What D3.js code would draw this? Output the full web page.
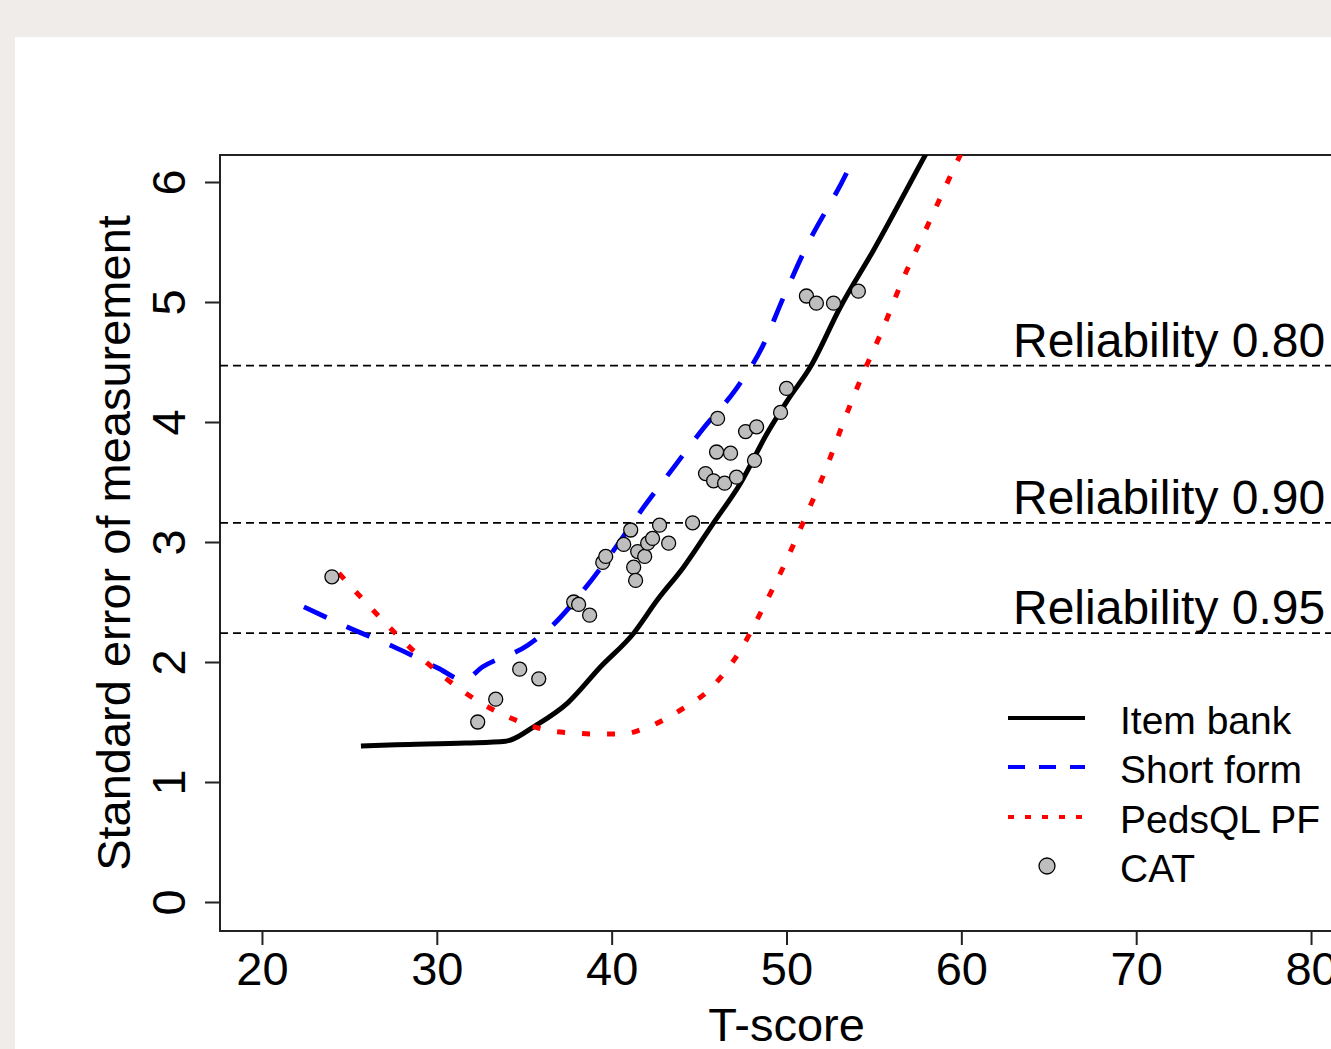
<!DOCTYPE html>
<html>
<head>
<meta charset="utf-8">
<script src="https://cdn.jsdelivr.net/npm/d3@7"></script>
<style>
  html, body { margin: 0; padding: 0; background: #f0ece9; }
  svg { display: block; }
  text { font-family: "Liberation Sans", Arial, sans-serif; fill: #000; }
</style>
</head>
<body>
<svg id="chart" width="1331" height="1049"></svg>
<script>
// ---------- data ----------
const xTicks = [20, 30, 40, 50, 60, 70, 80];
const yTicks = [0, 1, 2, 3, 4, 5, 6];

const itemBankT  = [25.66, 27.66, 31.66, 33.94, 34.23, 35.54, 37.49, 39.37, 41.26, 42.63, 44.11, 45.83, 47.37, 48.91, 50.06, 51.37, 53.09, 54.97, 57.94, 58.6];
const itemBankSE = [1.30, 1.31, 1.325, 1.34, 1.35, 1.46, 1.66, 1.96, 2.24, 2.52, 2.79, 3.16, 3.49, 3.91, 4.18, 4.46, 4.96, 5.43, 6.225, 6.40];

const shortT  = [22.4, 24.91, 27.49, 30.06, 31.54, 32.63, 35.2, 36.51, 38.4, 40.11, 41.83, 43.54, 45.26, 47.09, 48.63, 49.77, 50.97, 53.77, 54.3];
const shortSE = [2.46, 2.29, 2.13, 1.95, 1.85, 1.96, 2.14, 2.29, 2.6, 2.93, 3.29, 3.62, 3.95, 4.27, 4.63, 5.02, 5.41, 6.18, 6.36];

const pedsT  = [24.4, 25.66, 27.83, 30.11, 32.51, 34.97, 36.34, 37.66, 39.2, 40.63, 41.94, 43.94, 45.66, 47.37, 48.69, 49.94, 51.09, 52.23, 53.26, 54.34, 55.49, 56.63, 57.83, 59.09, 59.94, 60.4];
const pedsSE = [2.74, 2.54, 2.21, 1.91, 1.66, 1.49, 1.43, 1.41, 1.40, 1.40, 1.45, 1.60, 1.78, 2.10, 2.46, 2.83, 3.21, 3.60, 4.00, 4.39, 4.77, 5.18, 5.56, 5.96, 6.225, 6.36];

const catT  = [24.0, 32.34, 33.37, 34.74, 35.83, 37.83, 38.11, 38.74, 39.49, 39.66, 40.69, 41.09, 41.26, 41.37, 41.49, 41.89, 42.06, 42.34, 42.74, 43.26, 44.63, 45.37, 45.83, 46.46, 47.14, 46.0, 46.8, 46.06, 47.66, 48.29, 48.17, 49.66, 50.0, 51.14, 51.71, 52.69, 54.11];
const catSE = [2.71, 1.50, 1.69, 1.94, 1.86, 2.50, 2.48, 2.39, 2.83, 2.88, 2.98, 3.10, 2.79, 2.68, 2.92, 2.88, 2.99, 3.03, 3.14, 2.99, 3.16, 3.57, 3.51, 3.49, 3.54, 3.75, 3.74, 4.03, 3.92, 3.96, 3.68, 4.08, 4.28, 5.05, 4.99, 4.99, 5.09];

const reliabilityLabels = ["Reliability 0.80", "Reliability 0.90", "Reliability 0.95"];
const reliabilitySE = [4.47, 3.16, 2.24];

const legendLabels = ["Item bank", "Short form", "PedsQL PF", "CAT"];

// ---------- layout ----------
const svg = d3.select("#chart");
const W = 1331, H = 1049;
const box = { left: 220, top: 155, right: 1353, bottom: 931 };

svg.append("rect").attr("x", 0).attr("y", 0).attr("width", W).attr("height", H).attr("fill", "#f0ece9");
svg.append("rect").attr("x", 15).attr("y", 37).attr("width", W - 15).attr("height", H - 37).attr("fill", "#ffffff");

const x = d3.scaleLinear().domain([17.6, 82.4]).range([box.left, box.right]);
const y = d3.scaleLinear().domain([0, 6]).range([902, 182]);

svg.append("defs").append("clipPath").attr("id", "plotclip")
  .append("rect").attr("x", box.left).attr("y", box.top)
  .attr("width", box.right - box.left).attr("height", box.bottom - box.top);

// axes
const xAxis = svg.append("g").attr("transform", `translate(0,${box.bottom})`)
  .call(d3.axisBottom(x).tickValues(xTicks).tickSize(14).tickPadding(6).tickFormat(d3.format("d")));
xAxis.select(".domain").remove();
xAxis.selectAll("line").attr("stroke", "#222").attr("stroke-width", 2);
xAxis.selectAll("text").style("font-size", "47px").attr("dy", null).attr("y", 54);

const yAxis = svg.append("g").attr("transform", `translate(${box.left},0)`)
  .call(d3.axisLeft(y).tickValues(yTicks).tickSize(15).tickFormat(d3.format("d")));
yAxis.select(".domain").remove();
yAxis.selectAll("line").attr("stroke", "#222").attr("stroke-width", 2);
yAxis.selectAll("text")
  .style("font-size", "47px")
  .attr("x", null).attr("dy", null)
  .attr("text-anchor", "middle")
  .attr("transform", "translate(-35,0) rotate(-90)");

// box
svg.append("path")
  .attr("d", `M${box.right},${box.top}H${box.left}V${box.bottom}H${box.right}`)
  .attr("fill", "none").attr("stroke", "#222").attr("stroke-width", 2);

// axis titles
svg.append("text").attr("x", (box.left + box.right) / 2).attr("y", 1041)
  .attr("text-anchor", "middle").style("font-size", "47px").text("T-score");
svg.append("text").attr("transform", `translate(130,${(box.top + box.bottom) / 2}) rotate(-90)`)
  .attr("text-anchor", "middle").style("font-size", "47px").text("Standard error of measurement");

// reliability reference lines
const refG = svg.append("g");
reliabilitySE.forEach((se, i) => {
  refG.append("line").attr("x1", box.left).attr("x2", box.right)
    .attr("y1", y(se)).attr("y2", y(se))
    .attr("stroke", "#000").attr("stroke-width", 1.8).attr("stroke-dasharray", "8,5");
  refG.append("text").attr("x", 1013).attr("y", y(se) - 9)
    .style("font-size", "48px").text(reliabilityLabels[i]);
});

// curves
const plot = svg.append("g").attr("clip-path", "url(#plotclip)");
const line = d3.line().x(d => x(d[0])).y(d => y(d[1])).curve(d3.curveMonotoneX);

plot.append("path").datum(d3.zip(itemBankT, itemBankSE)).attr("d", line)
  .attr("fill", "none").attr("stroke", "#000").attr("stroke-width", 5).attr("stroke-linejoin", "round");
plot.append("path").datum(d3.zip(shortT, shortSE)).attr("d", line)
  .attr("fill", "none").attr("stroke", "#0000ff").attr("stroke-width", 4.8).attr("stroke-dasharray", "25,22");
plot.append("path").datum(d3.zip(pedsT, pedsSE)).attr("d", line)
  .attr("fill", "none").attr("stroke", "#ff0000").attr("stroke-width", 5).attr("stroke-dasharray", "8,17");

// CAT points
plot.selectAll("circle.cat").data(d3.zip(catT, catSE)).enter().append("circle")
  .attr("class", "cat")
  .attr("cx", d => x(d[0])).attr("cy", d => y(d[1])).attr("r", 7)
  .attr("fill", "#bebebe").attr("stroke", "#000").attr("stroke-width", 1.3);

// legend
const lg = svg.append("g");
const legY = [718, 767, 817, 866];
const legStyles = [
  { stroke: "#000", dash: null },
  { stroke: "#0000ff", dash: "17,14" },
  { stroke: "#ff0000", dash: "6,11" }
];
legStyles.forEach((s, i) => {
  const l = lg.append("line").attr("x1", 1008).attr("x2", 1085).attr("y1", legY[i]).attr("y2", legY[i])
    .attr("stroke", s.stroke).attr("stroke-width", 4);
  if (s.dash) l.attr("stroke-dasharray", s.dash);
});
lg.append("circle").attr("cx", 1047).attr("cy", legY[3]).attr("r", 8)
  .attr("fill", "#bebebe").attr("stroke", "#000").attr("stroke-width", 1.3);
legendLabels.forEach((t, i) => {
  lg.append("text").attr("x", 1120).attr("y", legY[i] + 16).style("font-size", "39px").text(t);
});
</script>
</body>
</html>
